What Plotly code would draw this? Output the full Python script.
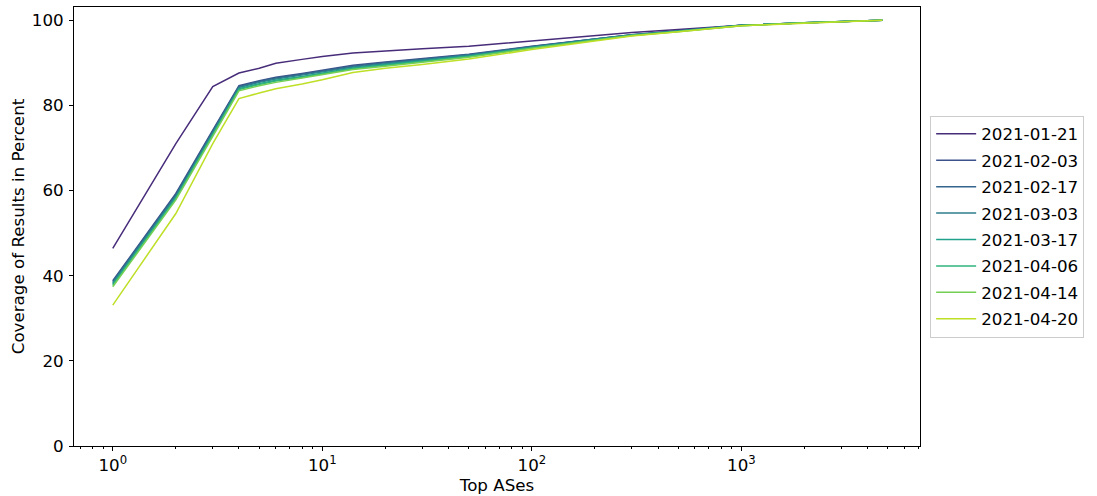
import plotly.graph_objects as go

top_ases = [1, 2, 3, 4, 5, 6, 8, 10, 14, 20, 30, 50, 100, 200, 300, 500, 1000, 2000, 4700]

dates = ["2021-01-21", "2021-02-03", "2021-02-17", "2021-03-03",
         "2021-03-17", "2021-04-06", "2021-04-14", "2021-04-20"]

cov_0121 = [46.4, 71.0, 84.4, 87.6, 88.7, 89.9, 90.8, 91.5, 92.3, 92.8, 93.3, 93.9, 95.1, 96.4, 97.1, 97.8, 98.8, 99.4, 100]
cov_0203 = [38.8, 59.3, 74.2, 84.6, 85.8, 86.6, 87.5, 88.2, 89.4, 90.2, 91.0, 92.0, 93.9, 95.7, 96.6, 97.5, 98.8, 99.4, 100]
cov_0217 = [38.6, 59.0, 73.9, 84.4, 85.6, 86.4, 87.3, 88.0, 89.2, 90.0, 90.8, 91.9, 93.8, 95.6, 96.6, 97.5, 98.8, 99.4, 100]
cov_0303 = [38.3, 58.7, 73.6, 84.2, 85.4, 86.2, 87.1, 87.8, 89.0, 89.8, 90.7, 91.8, 93.7, 95.6, 96.5, 97.4, 98.8, 99.4, 100]
cov_0317 = [38.0, 58.4, 73.3, 83.9, 85.1, 85.9, 86.8, 87.6, 88.8, 89.6, 90.5, 91.6, 93.6, 95.5, 96.5, 97.4, 98.8, 99.4, 100]
cov_0406 = [37.7, 58.1, 73.0, 83.7, 84.9, 85.7, 86.6, 87.4, 88.6, 89.4, 90.3, 91.5, 93.5, 95.4, 96.4, 97.4, 98.7, 99.4, 100]
cov_0414 = [37.4, 57.8, 72.7, 83.4, 84.6, 85.4, 86.4, 87.2, 88.4, 89.2, 90.1, 91.3, 93.4, 95.4, 96.4, 97.3, 98.7, 99.4, 100]
cov_0420 = [33.1, 54.6, 71.0, 81.6, 82.9, 83.9, 85.0, 86.0, 87.7, 88.7, 89.6, 90.9, 93.1, 95.2, 96.3, 97.3, 98.7, 99.3, 100]

series = [cov_0121, cov_0203, cov_0217, cov_0303, cov_0317, cov_0406, cov_0414, cov_0420]
colors = ["#472c7a", "#3b528b", "#33658d", "#2c7e8e", "#21a08a", "#2fb47c", "#74d055", "#bddf26"]

x_tick_vals = [1, 10, 100, 1000]
x_tick_text = ["10<sup>0</sup>", "10<sup>1</sup>", "10<sup>2</sup>", "10<sup>3</sup>"]
x_minor_vals = [m * d for d in [0.1, 1, 10, 100, 1000] for m in range(2, 10)]
y_tick_vals = [0, 20, 40, 60, 80, 100]

fig = go.Figure()
for name, ys, c in zip(dates, series, colors):
    fig.add_trace(go.Scatter(x=top_ases, y=ys, mode="lines", name=name, legendgroup=name,
                             line=dict(color=c, width=1.5)))

font_family = "DejaVu Sans"
fs = 16.7
fig.update_layout(
    width=1097, height=496,
    margin=dict(l=74, r=177, t=7, b=50, autoexpand=False),
    paper_bgcolor="white", plot_bgcolor="white",
    font=dict(family=font_family, size=fs, color="black"),
    showlegend=True,
    legend=dict(x=1.012, y=0.5, xanchor="left", yanchor="middle",
                bordercolor="#cccccc", borderwidth=1, bgcolor="white",
                font=dict(size=fs), tracegroupgap=1.7, itemwidth=40),
    xaxis=dict(type="log", range=[-0.185, 3.852], automargin=False,
               tickvals=x_tick_vals, ticktext=x_tick_text,
               ticks="outside", ticklen=4, tickwidth=1, tickcolor="black",
               minor=dict(tickvals=x_minor_vals, ticks="outside", ticklen=2, tickwidth=0.8, tickcolor="black"),
               showline=True, linecolor="black", linewidth=1, mirror=True,
               showgrid=False, zeroline=False,
               title=dict(text="Top ASes", standoff=1, font=dict(size=fs))),
    yaxis=dict(range=[0, 103.1], tickvals=y_tick_vals, automargin=False,
               ticks="outside", ticklen=4, tickwidth=1, tickcolor="black",
               ticklabelstandoff=2,
               showline=True, linecolor="black", linewidth=1, mirror=True,
               showgrid=False, zeroline=False,
               title=dict(text="Coverage of Results in Percent", standoff=2, font=dict(size=fs))),
)

fig.write_html("out.html", config={"displayModeBar": False},
               post_script="document.body.style.margin='0px';")
